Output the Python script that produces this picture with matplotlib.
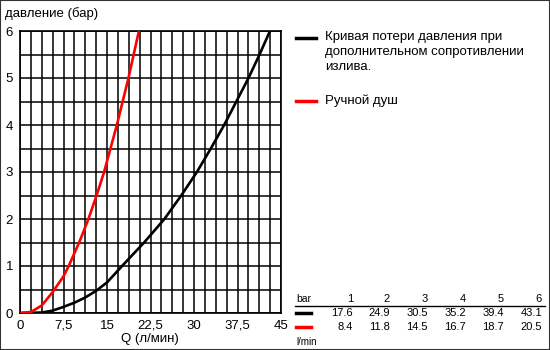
import numpy as np
import matplotlib.pyplot as plt
from matplotlib.ticker import MultipleLocator
from matplotlib.patches import Rectangle

plt.rcParams['font.family'] = ['Liberation Sans', 'DejaVu Sans']

# curve points (Q in l/min, p in bar)
black_q = [0, 3.75, 5.6, 7.5, 9.4, 11.25, 13.1, 15, 17.6, 21.4, 24.9, 27.8, 30.5, 32.9, 35.2, 37.3, 39.4, 41.3, 43.1]
black_p = [0, 0.01, 0.05, 0.13, 0.22, 0.33, 0.47, 0.65, 1, 1.5, 2, 2.5, 3, 3.5, 4, 4.5, 5, 5.5, 6]
red_q = [0, 1.875, 3.75, 5.6, 7.5, 8.4, 10.2, 11.8, 13.2, 14.5, 15.6, 16.7, 17.7, 18.7, 19.6, 20.5]
red_p = [0, 0.02, 0.16, 0.44, 0.78, 1, 1.5, 2, 2.5, 3, 3.5, 4, 4.5, 5, 5.5, 6]

xticks = [0, 7.5, 15, 22.5, 30, 37.5, 45]
xtick_labels = ['0', '7,5', '15', '22,5', '30', '37,5', '45']
yticks = [0, 1, 2, 3, 4, 5, 6]

legend_black = 'Кривая потери давления при\nдополнительном сопротивлении\nизлива.'
legend_red = 'Ручной душ'

table_bar = ['1', '2', '3', '4', '5', '6']
table_black = ['17.6', '24.9', '30.5', '35.2', '39.4', '43.1']
table_red = ['8.4', '11.8', '14.5', '16.7', '18.7', '20.5']

W, H = 550, 350
fig = plt.figure(figsize=(5.5, 3.5), dpi=100)
ax = fig.add_axes([20 / W, 37 / H, 261 / W, 282 / H])


def fx(x):
    return x / W


def fy(y):
    return 1 - y / H


ax.plot(black_q, black_p, color='black', lw=1.9, zorder=3, solid_joinstyle='round')
ax.plot(red_q, red_p, color='#ff0000', lw=1.9, zorder=3, solid_joinstyle='round')

ax.set_xlim(0, 45)
ax.set_ylim(0, 6)
ax.set_xticks(xticks)
ax.set_xticklabels(xtick_labels)
ax.set_yticks(yticks)
ax.xaxis.set_minor_locator(MultipleLocator(1.875))
ax.yaxis.set_minor_locator(MultipleLocator(0.5))
ax.grid(which='both', color='black', lw=1.1)
ax.tick_params(which='both', length=0, labelsize=9.5)
ax.tick_params(axis='x', pad=5)
ax.tick_params(axis='y', pad=5)
for s in ax.spines.values():
    s.set_linewidth(1.2)

fig.text(fx(5), fy(14), 'давление (бар)', fontsize=9.5, va='center', ha='left')
fig.text(fx(150), fy(339), 'Q (л/мин)', fontsize=9.5, va='center', ha='center')

# legend
fig.add_artist(plt.Line2D([fx(296), fx(316)], [fy(38), fy(38)], color='black', lw=2.5))
fig.text(fx(325), fy(31), legend_black, fontsize=9.5, va='top', ha='left', linespacing=1.35)
fig.add_artist(plt.Line2D([fx(296), fx(316)], [fy(101), fy(101)], color='#ff0000', lw=2.5))
fig.text(fx(325), fy(101), legend_red, fontsize=9.5, va='center', ha='left')

# table
col_right = [353, 390, 428, 466, 504, 542]
fig.text(fx(296), fy(299), 'bar', fontsize=7.5, va='center', ha='left')
fig.add_artist(plt.Line2D([fx(295), fx(545)], [fy(306), fy(306)], color='black', lw=1))
fig.add_artist(plt.Line2D([fx(296), fx(311)], [fy(313), fy(313)], color='black', lw=2.5))
fig.add_artist(plt.Line2D([fx(296), fx(311)], [fy(327), fy(327)], color='#ff0000', lw=2.5))
for i, xr in enumerate(col_right):
    fig.text(fx(xr), fy(299), table_bar[i], fontsize=8, va='center', ha='right')
    fig.text(fx(xr), fy(313), table_black[i], fontsize=8, va='center', ha='right')
    fig.text(fx(xr), fy(327), table_red[i], fontsize=8, va='center', ha='right')
fig.text(fx(296), fy(342), 'l/min', fontsize=7, va='center', ha='left')

fig.add_artist(Rectangle((0, 0), 1, 1, transform=fig.transFigure, fill=False,
                         edgecolor='#333333', lw=1.5))

fig.savefig('out.png', dpi=100)
